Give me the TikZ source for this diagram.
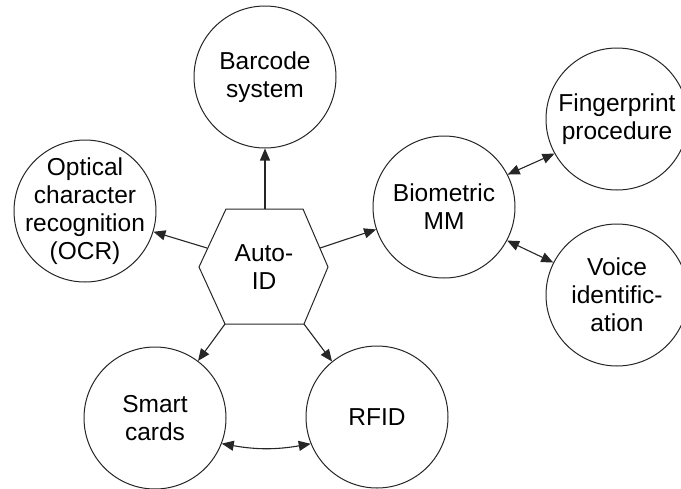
\documentclass[tikz,border=0pt]{standalone}
\usepackage{fontspec}
\setmainfont{Liberation Sans}
\usetikzlibrary{arrows.meta,shapes.geometric}
\begin{document}
\begin{tikzpicture}[x=1pt,y=-1pt,
  line width=1.1pt,
  circ/.style={draw=black!85,circle,minimum size=142pt,inner sep=0pt,line width=1pt},
  txt/.style={align=center,font=\fontsize{24.5}{28}\selectfont,inner sep=0pt},
  arr/.style={draw=black!85,-{Triangle[length=12pt,width=10pt]}},
  darr/.style={draw=black!85,{Triangle[length=12pt,width=10pt]}-{Triangle[length=12pt,width=10pt]}}]
\useasboundingbox (0,0) rectangle (681,488);
% circles
\node[circ] (bar) at (265,77) {};
\node[txt] (bar-t) at (bar) {Barcode\\system};
\node[circ] (ocr) at (85,211) {};
\node[txt] (ocr-t) at (ocr) {Optical\\character\\recognition\\(OCR)};
\node[circ] (bio) at (444,207) {};
\node[txt] (bio-t) at (bio) {Biometric\\MM};
\node[circ] (fp) at (617,119) {};
\node[txt] (fp-t) at (fp) {Fingerprint\\procedure};
\node[circ] (voice) at (617,295) {};
\node[txt] (voice-t) at (voice) {Voice\\identific-\\ation};
\node[circ] (smart) at (155,418) {};
\node[txt] (smart-t) at (smart) {Smart\\cards};
\node[circ] (rfid) at (377,417) {};
\node[txt] (rfid-t) at (rfid) {RFID};
% hexagon
\coordinate (hTL) at (226,209);
\coordinate (hTR) at (303,209);
\coordinate (hR) at (328,267);
\coordinate (hBR) at (304,324);
\coordinate (hBL) at (225,324);
\coordinate (hL) at (199,267);
\draw[draw=black!85,line width=1pt] (hTL) -- (hTR) -- (hR) -- (hBR) -- (hBL) -- (hL) -- cycle;
\node[txt] (auto) at (264,267) {Auto-\\ID};
\coordinate (htop) at (265,209);
\coordinate (hocr) at (207,248);
\coordinate (hbio) at (320,248);
% connectors
\draw[arr] (htop) -- (bar);
\draw[arr] (hocr) -- (ocr);
\draw[arr] (hbio) -- (bio);
\draw[arr] (hBL) -- (smart.53);
\draw[arr] (hBR) -- (rfid.129);
\draw[darr] (bio.27) -- (fp.209);
\draw[darr] (bio.-28) -- (voice.153);
\draw[darr] (smart.-21) to[bend right=10] (rfid.-158);
\end{tikzpicture}
\end{document}
